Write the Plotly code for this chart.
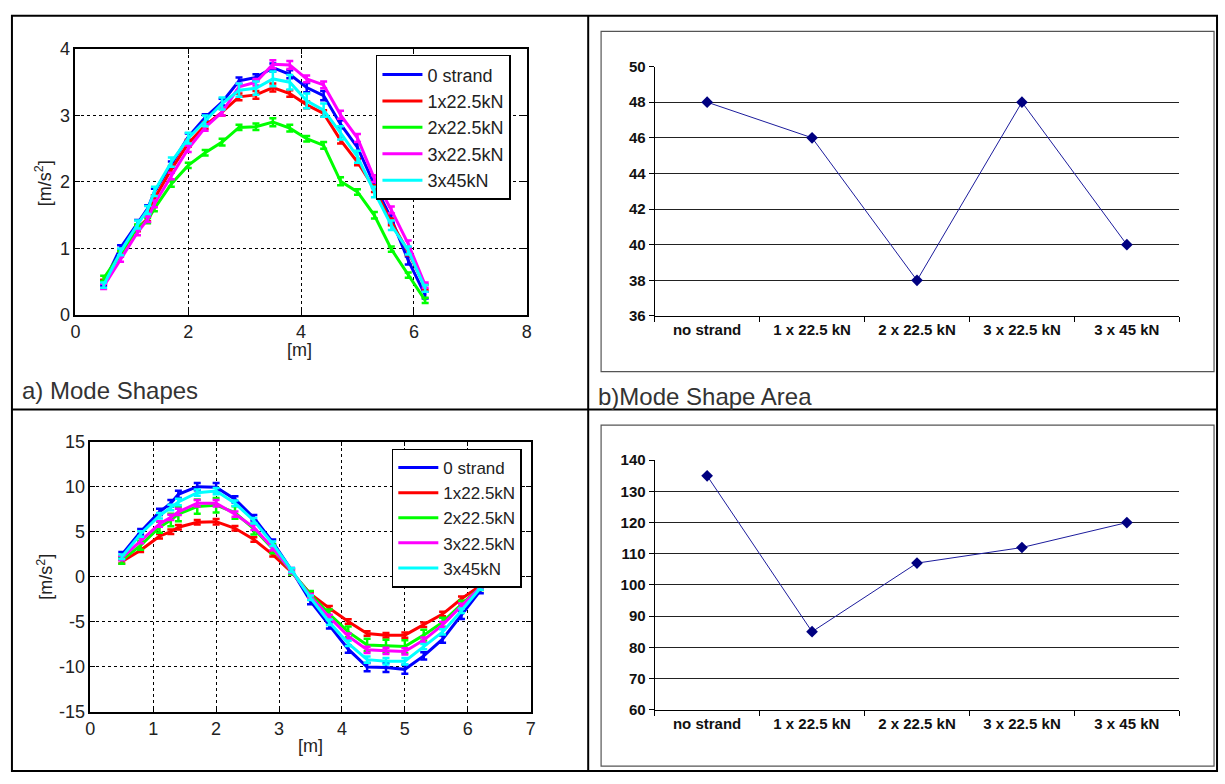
import plotly.graph_objects as go

W, H = 1225, 784

# ---------------- data ----------------
positions = [0.5, 0.8, 1.1, 1.28, 1.4, 1.7, 2.0, 2.3, 2.6, 2.9, 3.2, 3.5, 3.8, 4.1, 4.4, 4.7, 5.0, 5.3, 5.6, 5.9, 6.2]
series_names = ["0 strand", "1x22.5kN", "2x22.5kN", "3x22.5kN", "3x45kN"]
series_colors = ["#0000ff", "#ff0000", "#00ff00", "#ff00ff", "#00ffff"]

# a) first mode shape [m/s2]
mode1_0strand = [0.48, 1.01, 1.38, 1.60, 1.85, 2.26, 2.68, 2.97, 3.20, 3.52, 3.57, 3.72, 3.62, 3.42, 3.30, 2.87, 2.52, 1.96, 1.45, 0.82, 0.30]
mode1_1x225 = [0.50, 0.92, 1.30, 1.45, 1.75, 2.19, 2.58, 2.85, 3.05, 3.28, 3.31, 3.42, 3.33, 3.16, 3.03, 2.63, 2.30, 1.90, 1.40, 0.95, 0.42]
mode1_2x225 = [0.55, 0.92, 1.32, 1.42, 1.60, 1.97, 2.25, 2.44, 2.60, 2.82, 2.83, 2.90, 2.81, 2.65, 2.55, 2.01, 1.85, 1.50, 0.99, 0.60, 0.22]
mode1_3x225 = [0.43, 0.84, 1.24, 1.44, 1.67, 2.09, 2.50, 2.82, 3.05, 3.43, 3.50, 3.77, 3.76, 3.55, 3.46, 3.01, 2.66, 2.05, 1.58, 1.07, 0.45]
mode1_3x45 = [0.45, 0.95, 1.36, 1.58, 1.86, 2.30, 2.66, 2.92, 3.18, 3.38, 3.41, 3.55, 3.50, 3.22, 3.08, 2.74, 2.38, 1.85, 1.35, 0.97, 0.40]
err1_0strand = [0.04, 0.04, 0.05, 0.05, 0.05, 0.05, 0.05, 0.05, 0.05, 0.05, 0.05, 0.06, 0.06, 0.07, 0.07, 0.06, 0.06, 0.05, 0.06, 0.06, 0.05]
err1_1x225 = [0.03, 0.04, 0.04, 0.04, 0.05, 0.05, 0.05, 0.05, 0.05, 0.05, 0.06, 0.06, 0.05, 0.05, 0.05, 0.05, 0.05, 0.05, 0.05, 0.05, 0.04]
err1_2x225 = [0.04, 0.04, 0.04, 0.04, 0.04, 0.04, 0.04, 0.04, 0.05, 0.04, 0.05, 0.06, 0.05, 0.04, 0.05, 0.06, 0.04, 0.05, 0.04, 0.04, 0.04]
err1_3x225 = [0.04, 0.04, 0.04, 0.04, 0.05, 0.05, 0.05, 0.05, 0.05, 0.05, 0.05, 0.06, 0.06, 0.05, 0.05, 0.06, 0.06, 0.05, 0.05, 0.05, 0.04]
err1_3x45 = [0.04, 0.05, 0.06, 0.06, 0.07, 0.07, 0.08, 0.08, 0.09, 0.10, 0.10, 0.11, 0.11, 0.11, 0.10, 0.10, 0.09, 0.08, 0.07, 0.06, 0.05]

# c) second mode shape [m/s2]
mode2_0strand = [2.45, 5.00, 7.20, 8.16, 9.15, 10.00, 9.95, 8.60, 6.55, 3.84, 0.72, -2.71, -5.42, -8.06, -10.05, -10.10, -10.30, -8.80, -6.95, -4.30, -1.55]
mode2_1x225 = [1.65, 2.93, 4.50, 5.00, 5.49, 6.04, 6.11, 5.38, 4.13, 2.45, 0.50, -1.92, -3.51, -4.99, -6.32, -6.50, -6.50, -5.35, -4.16, -2.46, -1.01]
mode2_2x225 = [1.83, 3.48, 5.49, 6.29, 6.95, 7.79, 7.94, 7.13, 5.30, 3.10, 0.55, -1.99, -4.16, -6.14, -7.59, -7.70, -7.77, -6.50, -5.06, -3.07, -1.19]
mode2_3x225 = [2.08, 4.02, 5.85, 6.59, 7.20, 8.16, 8.16, 6.95, 5.49, 3.18, 0.60, -2.17, -4.52, -6.61, -8.13, -8.24, -8.31, -7.05, -5.35, -3.25, -1.19]
mode2_3x45 = [2.20, 4.75, 6.77, 7.68, 8.30, 9.33, 9.51, 8.16, 6.22, 3.66, 0.73, -2.35, -5.06, -7.41, -9.22, -9.40, -9.40, -7.77, -6.14, -3.79, -1.26]
err2_0strand = [0.30, 0.30, 0.35, 0.35, 0.40, 0.40, 0.45, 0.35, 0.30, 0.30, 0.25, 0.35, 0.35, 0.40, 0.45, 0.50, 0.50, 0.40, 0.40, 0.40, 0.30]
err2_1x225 = [0.20, 0.20, 0.25, 0.25, 0.25, 0.25, 0.30, 0.25, 0.25, 0.20, 0.20, 0.20, 0.25, 0.25, 0.25, 0.25, 0.30, 0.25, 0.25, 0.25, 0.20]
err2_2x225 = [0.40, 0.50, 0.60, 0.70, 0.80, 0.80, 0.80, 0.70, 0.60, 0.50, 0.30, 0.40, 0.50, 0.60, 0.70, 0.70, 0.70, 0.60, 0.50, 0.40, 0.30]
err2_3x225 = [0.25, 0.30, 0.30, 0.30, 0.35, 0.35, 0.35, 0.30, 0.30, 0.25, 0.20, 0.25, 0.30, 0.30, 0.35, 0.35, 0.35, 0.30, 0.30, 0.25, 0.20]
err2_3x45 = [0.25, 0.30, 0.30, 0.30, 0.35, 0.35, 0.35, 0.30, 0.30, 0.25, 0.20, 0.25, 0.30, 0.30, 0.35, 0.35, 0.35, 0.30, 0.30, 0.25, 0.20]

# tick labels of the second-mode amplitude axis (hyphen minus as in the source)
mode2_ticks = [-15, -10, -5, 0, 5, 10, 15]
mode2_ticktext = ["-15", "-10", "-5", "0", "5", "10", "15"]

# b) and d) mode shape areas
area_categories = ["no strand", "1 x 22.5 kN", "2 x 22.5 kN", "3 x 22.5 kN", "3 x 45 kN"]
area_mode1 = [48, 46, 38, 48, 40]
area_mode2 = [135, 85, 107, 112, 120]

mode1_series = [mode1_0strand, mode1_1x225, mode1_2x225, mode1_3x225, mode1_3x45]
mode1_errors = [err1_0strand, err1_1x225, err1_2x225, err1_3x225, err1_3x45]
mode2_series = [mode2_0strand, mode2_1x225, mode2_2x225, mode2_3x225, mode2_3x45]
mode2_errors = [err2_0strand, err2_1x225, err2_2x225, err2_3x225, err2_3x45]

FONT = "Liberation Sans, Arial, Helvetica, sans-serif"


def px_x(p):
    return p / W


def px_y(p):
    return 1 - p / H


fig = go.Figure()

# ---------- MATLAB-style panels ----------
for ys, es, xa, ya, leg in [
    (mode1_series, mode1_errors, "x", "y", "legend"),
    (mode2_series, mode2_errors, "x3", "y3", "legend2"),
]:
    for name, color, vals, errs in zip(series_names, series_colors, ys, es):
        fig.add_trace(go.Scatter(
            x=positions, y=vals, mode="lines", name=name,
            line=dict(color=color, width=3),
            error_y=dict(type="data", array=errs, visible=True, color=color, thickness=2.5, width=3.5),
            xaxis=xa, yaxis=ya, legend=leg, showlegend=True,
        ))

# ---------- Excel-style panels ----------
for vals, xa, ya in [(area_mode1, "x2", "y2"), (area_mode2, "x4", "y4")]:
    fig.add_trace(go.Scatter(
        x=area_categories, y=vals, mode="lines+markers",
        line=dict(color="#1c1c9c", width=1),
        marker=dict(symbol="diamond", size=9, color="#000080"),
        xaxis=xa, yaxis=ya, showlegend=False,
    ))

matlab_axis = dict(
    showline=True, linecolor="black", linewidth=1.5, mirror="allticks",
    ticks="inside", ticklen=5, tickcolor="black", tickwidth=1,
    showgrid=True, gridcolor="black", gridwidth=1, griddash="dot",
    zeroline=False, tickfont=dict(family=FONT, size=18, color="#222"),
)
excel_y = dict(
    showline=True, linecolor="black", linewidth=1,
    ticks="outside", ticklen=5, tickcolor="black",
    showgrid=True, gridcolor="#222", gridwidth=1, zeroline=False,
    tickfont=dict(family=FONT, size=15, color="#111", weight="bold"),
)
excel_x = dict(
    type="category", range=[-0.5, 4.5], showline=True, linecolor="black", linewidth=1,
    ticks="outside", ticklen=5, tickcolor="black", tickson="boundaries",
    showgrid=False, zeroline=False,
    tickfont=dict(family=FONT, size=15, color="#111", weight="bold"),
)

fig.update_layout(
    width=W, height=H, margin=dict(l=0, r=0, t=0, b=0),
    paper_bgcolor="white", plot_bgcolor="white",
    font=dict(family=FONT, color="#222"),
    xaxis=dict(domain=[px_x(71), px_x(526)], range=[0, 8], dtick=2, anchor="y", **matlab_axis),
    yaxis=dict(domain=[px_y(313), px_y(40)], range=[0, 4], dtick=1, anchor="x", **matlab_axis),
    xaxis3=dict(domain=[px_x(86), px_x(530)], range=[0, 7], dtick=1, anchor="y3", **matlab_axis),
    yaxis3=dict(domain=[px_y(720), px_y(443)], range=[-15, 15], tickvals=mode2_ticks, ticktext=mode2_ticktext,
                anchor="x3", **matlab_axis),
    xaxis2=dict(domain=[px_x(655), px_x(1184)], anchor="y2", **excel_x),
    yaxis2=dict(domain=[px_y(314), px_y(58)], range=[36, 50], dtick=2, anchor="x2", **excel_y),
    xaxis4=dict(domain=[px_x(655), px_x(1184)], anchor="y4", **excel_x),
    yaxis4=dict(domain=[px_y(718), px_y(462)], range=[60, 140], dtick=10, anchor="x4", **excel_y),
    legend=dict(x=px_x(374), y=px_y(46), xanchor="left", yanchor="top",
                bgcolor="white", bordercolor="black", borderwidth=1.5,
                font=dict(family=FONT, size=18, color="#222"), tracegroupgap=0, itemwidth=40),
    legend2=dict(x=px_x(390), y=px_y(450), xanchor="left", yanchor="top",
                 bgcolor="white", bordercolor="black", borderwidth=1.5,
                 font=dict(family=FONT, size=17, color="#222"), tracegroupgap=0, itemwidth=40),
)

# ---------- table frame and chart boxes ----------
shapes = [
    dict(type="rect", xref="paper", yref="paper", x0=px_x(7), x1=px_x(1222), y0=px_y(781), y1=px_y(6),
         line=dict(color="black", width=2)),
    dict(type="line", xref="paper", yref="paper", x0=px_x(588), x1=px_x(588), y0=px_y(781), y1=px_y(6),
         line=dict(color="black", width=2)),
    dict(type="line", xref="paper", yref="paper", x0=px_x(7), x1=px_x(1222), y0=px_y(410), y1=px_y(410),
         line=dict(color="black", width=2)),
    dict(type="rect", xref="paper", yref="paper", x0=px_x(601), x1=px_x(1219), y0=px_y(371), y1=px_y(22),
         line=dict(color="#555", width=1.2)),
    dict(type="rect", xref="paper", yref="paper", x0=px_x(601), x1=px_x(1219), y0=px_y(776), y1=px_y(426),
         line=dict(color="#555", width=1.2)),
]
fig.update_layout(shapes=shapes)

ann = []
common = dict(xref="paper", yref="paper", showarrow=False)
# axis titles
ann.append(dict(text="[m]", x=px_x(297), y=px_y(349), xanchor="center", yanchor="middle",
                font=dict(family=FONT, size=18, color="#222"), **common))
ann.append(dict(text="[m/s<sup>2</sup>]", x=px_x(39), y=px_y(178), xanchor="center", yanchor="middle",
                textangle=-90, font=dict(family=FONT, size=18, color="#222"), **common))
ann.append(dict(text="[m]", x=px_x(308), y=px_y(755), xanchor="center", yanchor="middle",
                font=dict(family=FONT, size=18, color="#222"), **common))
ann.append(dict(text="[m/s<sup>2</sup>]", x=px_x(40), y=px_y(582), xanchor="center", yanchor="middle",
                textangle=-90, font=dict(family=FONT, size=18, color="#222"), **common))
# panel captions
ann.append(dict(text="a) Mode Shapes", x=px_x(15), y=px_y(390), xanchor="left", yanchor="middle",
                font=dict(family=FONT, size=24, color="#333"), **common))
ann.append(dict(text="b)Mode Shape Area", x=px_x(596), y=px_y(397), xanchor="left", yanchor="middle",
                font=dict(family=FONT, size=24, color="#333"), **common))
fig.update_layout(annotations=ann)

fig.write_html(
    "out.html",
    config={"displayModeBar": False},
    post_script="document.body.style.margin='0';document.body.style.padding='0';"
                "document.documentElement.style.overflow='hidden';",
)
